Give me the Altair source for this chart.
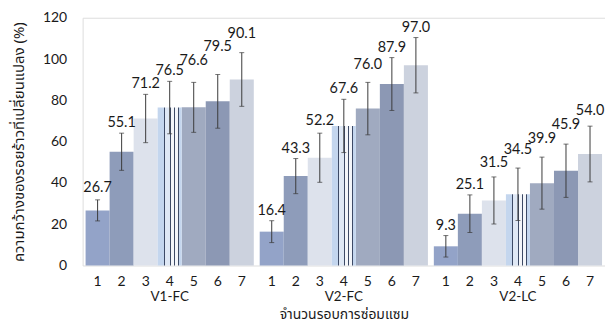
import altair as alt
import pandas as pd

groups = ["V1-FC", "V2-FC", "V2-LC"]
cycles = [1, 2, 3, 4, 5, 6, 7]
v1_fc = [26.7, 55.1, 71.2, 76.5, 76.6, 79.5, 90.1]
v2_fc = [16.4, 43.3, 52.2, 67.6, 76.0, 87.9, 97.0]
v2_lc = [9.3, 25.1, 31.5, 34.5, 39.9, 45.9, 54.0]
err_v1_fc = [5.1, 9.0, 11.7, 12.7, 12.1, 13.0, 13.0]
err_v2_fc = [5.3, 8.5, 11.9, 12.9, 12.7, 12.8, 13.4]
err_v2_lc = [5.2, 9.1, 11.4, 12.7, 12.6, 12.9, 13.5]

# label placement (style): gap in pixels between error-bar top and label bottom
PLOT_H = 249
Y_MAX = 120
default_gap = 3
label_gap = {("V1-FC", 1): 5, ("V1-FC", 5): 14, ("V1-FC", 6): 21, ("V1-FC", 7): 12,
             ("V2-FC", 3): 5, ("V2-FC", 5): 10,
             ("V2-LC", 3): 7, ("V2-LC", 4): 11, ("V2-LC", 5): 11, ("V2-LC", 6): 12,
             ("V2-LC", 7): 8}

rows = []
for g, vals, errs in zip(groups, [v1_fc, v2_fc, v2_lc], [err_v1_fc, err_v2_fc, err_v2_lc]):
    for c, v, e in zip(cycles, vals, errs):
        gap = label_gap.get((g, c), default_gap)
        rows.append({"group": g, "cycle": c, "value": v, "lo": v - e, "hi": v + e,
                     "lab_y": v + e + gap * Y_MAX / PLOT_H,
                     "label": f"{v:.1f}"})
df = pd.DataFrame(rows)

fills = ["#93a3c8", "#8e9cba", "#dde2ec", "#c4d5ec", "#a0aac0", "#8c98b4", "#ccd2de"]

FONT = "Lato"
THAI = "Noto Sans Thai, Noto Sans, DejaVu Sans, sans-serif"
INK = "#1a1a1a"

x = alt.X("group:N", sort=groups,
          scale=alt.Scale(paddingInner=0.034, paddingOuter=0.017),
          axis=alt.Axis(labels=False, ticks=False, domain=False,
                        title="จำนวนรอบการซ่อมแซม", titleFont=THAI,
                        titleFontSize=14, titleFontWeight="normal",
                        titleColor=INK, titlePadding=42))
xo = alt.XOffset("cycle:O", scale=alt.Scale(paddingInner=0, paddingOuter=0))
y = alt.Y("value:Q", scale=alt.Scale(domain=[0, Y_MAX], nice=False),
          axis=alt.Axis(values=[0, 20, 40, 60, 80, 100, 120], grid=False,
                        ticks=False, domain=False, labelFont=FONT,
                        labelFontSize=14, labelColor=INK, labelPadding=16,
                        title="ความกว้างของรอยร้าวที่เปลี่ยนแปลง (%)",
                        titleFont=THAI, titleFontSize=15, titleFontWeight="normal",
                        titleColor=INK, titlePadding=16))

base = alt.Chart(df)

bars = base.transform_filter("datum.cycle != 4").mark_bar(stroke=None).encode(
    x=x, xOffset=xo, y=y,
    color=alt.Color("cycle:O", scale=alt.Scale(domain=cycles, range=fills), legend=None),
)

LINE = "#3d4a66"
def stops(spec):
    out = []
    for col, a, b in spec:
        out.append(alt.GradientStop(color=col, offset=a))
        out.append(alt.GradientStop(color=col, offset=b))
    return out

stripe = alt.Gradient(
    gradient="linear", x1=0, x2=1, y1=0, y2=0,
    stops=stops([
        ("#c4d6ee", 0.0, 0.26), (LINE, 0.26, 0.31), ("#dfe8f5", 0.31, 0.50),
        (LINE, 0.50, 0.55), ("#f4f6fa", 0.55, 0.68), (LINE, 0.68, 0.73),
        ("#f4f6fa", 0.73, 0.84), (LINE, 0.84, 0.89), ("#c4d6ee", 0.89, 1.0),
    ]),
)
bar4 = base.transform_filter("datum.cycle == 4").mark_bar(color=stripe).encode(
    x=x, xOffset=xo, y=y)

ECOL = "#3a3a3a"
err = base.mark_rule(color=ECOL, strokeWidth=1).encode(
    x=x, xOffset=xo, y="lo:Q", y2="hi:Q")
cap_hi = base.mark_tick(color=ECOL, size=5, thickness=1, orient="horizontal").encode(
    x=x, xOffset=xo, y="hi:Q")
cap_lo = base.mark_tick(color=ECOL, size=5, thickness=1, orient="horizontal").encode(
    x=x, xOffset=xo, y="lo:Q")

vlabels = base.mark_text(font=FONT, fontSize=14.5, color=INK, baseline="bottom").encode(
    x=x, xOffset=xo, y="lab_y:Q", text="label:N")

nums = base.mark_text(font=FONT, fontSize=14, color=INK, baseline="middle", dy=17).encode(
    x=x, xOffset=xo, y=alt.datum(0), text="cycle:O")

gdf = pd.DataFrame({"group": groups})
glabels = alt.Chart(gdf).mark_text(font=FONT, fontSize=13.5, color=INK,
                                   baseline="middle", dy=32).encode(
    x=x, y=alt.datum(0), text="group:N")

chart = alt.layer(bars, bar4, err, cap_hi, cap_lo, vlabels, nums, glabels).properties(
    width=525, height=PLOT_H,
    autosize=alt.AutoSizeParams(type="none"),
    padding={"left": 75, "top": 9, "right": 0, "bottom": 62},
).configure_view(stroke="#8c8c8c", strokeWidth=1).configure(background="white")

chart.save("out.html", embed_options={"renderer": "svg", "actions": False})
